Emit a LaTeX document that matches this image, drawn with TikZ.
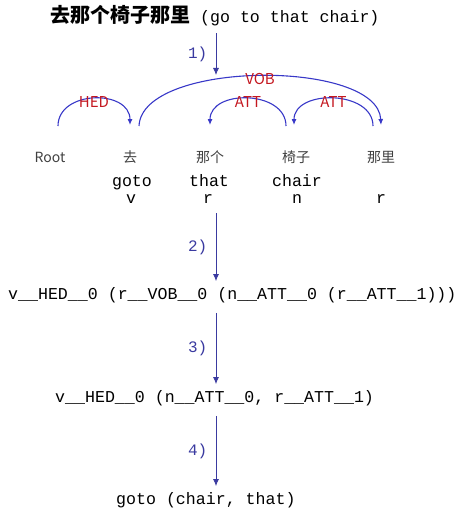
\documentclass[tikz,border=0pt]{standalone}
\usepackage{fontspec}
\setmonofont{Liberation Mono}
\newfontfamily\cjk{Noto Sans CJK SC}
\usetikzlibrary{arrows.meta}
\definecolor{flowblue}{RGB}{58,58,160}
\definecolor{arcblue}{RGB}{56,56,200}
\definecolor{deprel}{RGB}{196,24,32}

\begin{document}
\begin{tikzpicture}[x=1pt,y=-1pt,
  txt/.style={font=\fontsize{16.6}{18}\selectfont\ttfamily,inner sep=0pt},
  word/.style={font=\fontsize{14}{16}\selectfont\cjk,text=black!75,inner sep=0pt,anchor=base},
  rel/.style={font=\fontsize{15}{16}\selectfont\cjk,text=deprel,inner sep=0pt},
  arc/.style={draw=arcblue,line width=1.1pt,-{Latex[length=6pt,width=5pt]}},
  flow/.style={draw=flowblue,thick,-{Latex[length=7pt,width=6pt]}},
  stepnum/.style={font=\fontsize{16}{18}\selectfont\ttfamily,text=flowblue,left=5pt}]
\useasboundingbox (0,0) rectangle (459,516);

\node[txt,anchor=west] (title) at (50,16) {{\fontsize{20}{22}\selectfont\cjk\bfseries 去那个椅子那里} (go to that chair)};

\node[word] (root) at (50,162) {Root};
\node[word] (qu) at (130,162) {去};
\node[word] (nage) at (210,162) {那个};
\node[word] (yizi) at (296,162) {椅子};
\node[word] (nali) at (381,162) {那里};

\node[txt,anchor=base] (goto) at (132,186) {goto};
\node[txt,anchor=base] (that) at (209,186) {that};
\node[txt,anchor=base] (chair) at (297,186) {chair};

\node[txt,anchor=base] (pv) at (131,203) {v};
\node[txt,anchor=base] (pr) at (208,203) {r};
\node[txt,anchor=base] (pn) at (297,203) {n};
\node[txt,anchor=base] (pr2) at (381,203) {r};

\draw[arc] ([xshift=8pt,yshift=36pt]root.base) .. controls +(0,-36) and +(0,-36) .. ([yshift=37pt]qu.base)
  node[rel,pos=0.5,yshift=-4pt] (hed) {HED};
\draw[arc] ([xshift=9pt,yshift=36pt]qu.base) .. controls +(3,-66) and +(-3,-66) .. ([yshift=37pt]nali.base)
  node[rel,pos=0.5,yshift=-3pt] (vob) {VOB};
\draw[arc] ([xshift=-10pt,yshift=36pt]yizi.base) .. controls +(0,-36) and +(0,-36) .. ([yshift=37pt]nage.base)
  node[rel,pos=0.5,yshift=-4pt] (att1) {ATT};
\draw[arc] ([xshift=-8pt,yshift=36pt]nali.base) .. controls +(0,-36) and +(0,-36) .. ([xshift=-2pt,yshift=37pt]yizi.base)
  node[rel,pos=0.5,yshift=-4pt] (att2) {ATT};

\node[txt,anchor=west] (tree) at (8,295) {v\_\_HED\_\_0 (r\_\_VOB\_\_0 (n\_\_ATT\_\_0 (r\_\_ATT\_\_1)))};
\node[txt,anchor=west] (flat) at (55,398) {v\_\_HED\_\_0 (n\_\_ATT\_\_0, r\_\_ATT\_\_1)};
\node[txt,anchor=west] (result) at (116,500) {goto (chair, that)};

\coordinate (a1) at (216,75);
\coordinate (a2) at (216,213);

\draw[flow] ([yshift=-7pt]title.south -| a1) -- (a1) node[stepnum,midway] {1)};
\draw[flow] (a2) -- ([yshift=6pt]a2 |- tree.north) node[stepnum,midway] {2)};
\draw[flow] ([yshift=-10pt]tree.south -| a2) -- ([yshift=6pt]a2 |- flat.north) node[stepnum,midway] {3)};
\draw[flow] ([yshift=-10pt]flat.south -| a2) -- ([yshift=6pt]a2 |- result.north) node[stepnum,midway] {4)};
\end{tikzpicture}
\end{document}
